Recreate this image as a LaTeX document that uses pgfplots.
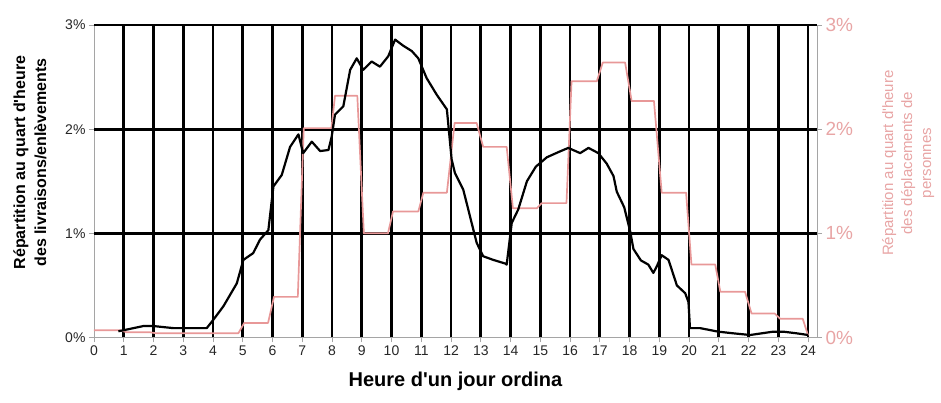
\documentclass[border=0pt]{standalone}
\usepackage{fontspec}
\setmainfont{Liberation Sans}[Ligatures=TeXOff]
\usepackage{pgfplots}
\pgfplotsset{compat=1.18}
\definecolor{rose}{RGB}{232,152,152}
\definecolor{roselab}{RGB}{232,165,165}
\definecolor{axgray}{RGB}{165,165,165}

\begin{document}
\begin{tikzpicture}
\begin{axis}[
  scale only axis, width=723pt, height=312.5pt,
  xmin=0, xmax=24.3, ymin=0, ymax=3,
  axis x line*=bottom, axis y line*=left,
  axis line style={axgray, line width=0.8pt, -},
  xtick={0,1,2,3,4,5,6,7,8,9,10,11,12,13,14,15,16,17,18,19,20,21,22,23,24},
  xticklabels={0,1,2,3,4,5,6,7,8,9,10,11,12,13,14,15,16,17,18,19,20,21,22,23,24},
  ytick={0,1,2,3}, yticklabels={0\%,1\%,2\%,3\%},
  tick align=outside, major tick length=5pt,
  tick style={axgray, line width=0.8pt},
  extra x ticks={1,2,3,4,5,6,7,8,9,10,11,12,13,14,15,16,17,18,19,20,21,22,23,24},
  extra x tick labels={},
  extra x tick style={grid=major, major tick length=0pt},
  extra y ticks={1,2,3}, extra y tick labels={},
  extra y tick style={grid=major, major tick length=0pt},
  grid style={black, line width=2.7pt},
  ticklabel style={font=\fontsize{14}{16}\selectfont, text=black!85},
  xlabel={Heure d'un jour ordina},
  xlabel style={at={(axis description cs:0.5,-0.139)}, anchor=center, font=\bfseries\fontsize{20}{24}\selectfont},
  ylabel={Répartition au quart d'heure\\des livraisons/enlèvements},
  ylabel style={at={(axis description cs:-0.0886,0.56)}, anchor=center, align=center, font=\bfseries\fontsize{16}{21}\selectfont},
]
\coordinate (O) at (rel axis cs:0,0);
% deplacements de personnes (right axis, same 0-3% scale)
\addplot[rose, line width=1.7pt, line join=round] coordinates {
(0,0.07) (0.88,0.07)
(1.1,0.05) (1.88,0.05)
(2.1,0.04) (2.88,0.04)
(3.1,0.04) (3.88,0.04)
(4.1,0.04) (4.85,0.04)
(5.05,0.14) (5.85,0.14)
(6.05,0.39) (6.85,0.39)
(7.05,2.01) (7.98,2.01)
(8.1,2.32) (8.85,2.32)
(9.07,1.00) (9.88,1.00)
(10.05,1.21) (10.9,1.21)
(11.07,1.39) (11.86,1.39)
(12.12,2.06) (12.86,2.06)
(13.08,1.83) (13.87,1.83)
(14.08,1.24) (14.88,1.24)
(15.05,1.29) (15.88,1.29)
(16.05,2.46) (16.9,2.46)
(17.1,2.64) (17.85,2.64)
(18.07,2.27) (18.82,2.27)
(19.08,1.39) (19.9,1.39)
(20.08,0.70) (20.88,0.70)
(21.05,0.44) (21.88,0.44)
(22.1,0.23) (22.88,0.23)
(23.06,0.18) (23.82,0.18)
(24.0,0.02)
};
% livraisons/enlevements
\addplot[black, line width=2.2pt, line join=round] coordinates {
(0.82,0.06) (1.0,0.07) (1.33,0.09) (1.66,0.11) (2.0,0.11) (2.33,0.10)
(2.67,0.09) (3.0,0.09) (3.4,0.09) (3.79,0.09) (4.01,0.17) (4.35,0.30)
(4.8,0.52) (5.02,0.745) (5.35,0.81) (5.58,0.94) (5.86,1.03) (6.03,1.45)
(6.31,1.56) (6.59,1.83) (6.87,1.95) (7.03,1.77) (7.32,1.88) (7.60,1.79)
(7.88,1.80) (7.99,1.93) (8.10,2.14) (8.38,2.22) (8.61,2.57) (8.83,2.68)
(9.05,2.57) (9.33,2.65) (9.61,2.60) (9.89,2.70) (10.12,2.86) (10.40,2.80)
(10.68,2.75) (10.90,2.68) (11.18,2.49) (11.52,2.33) (11.86,2.19) (12.02,1.71)
(12.13,1.58) (12.41,1.42) (12.64,1.16) (12.86,0.91) (13.08,0.78) (13.42,0.745)
(13.82,0.71) (13.87,0.70) (14.04,1.10) (14.26,1.23) (14.55,1.50) (14.85,1.64)
(15.22,1.73) (15.61,1.78) (15.94,1.82) (16.34,1.77) (16.62,1.82) (16.95,1.77)
(17.23,1.67) (17.46,1.55) (17.57,1.40) (17.82,1.25) (18.02,1.02) (18.13,0.85)
(18.38,0.74) (18.63,0.70) (18.80,0.62) (18.91,0.68) (19.08,0.79) (19.31,0.745)
(19.59,0.50) (19.87,0.425) (19.98,0.34) (20.03,0.09) (20.37,0.09) (20.98,0.056)
(21.49,0.04) (22.05,0.024) (22.83,0.056) (23.17,0.056) (23.62,0.04) (24.0,0.024)
};
\end{axis}
\begin{axis}[
  scale only axis, width=723pt, height=312.5pt,
  xmin=0, xmax=24.3, ymin=0, ymax=3,
  axis x line=none, axis y line*=right,
  axis line style={axgray, line width=0.8pt, -},
  ytick={0,1,2,3}, yticklabels={0\%,1\%,2\%,3\%},
  tick align=outside, major tick length=5pt,
  tick style={axgray, line width=0.8pt},
  yticklabel style={font=\fontsize{19}{22}\selectfont, text=roselab},
  ylabel={Répartition au quart d'heure\\des déplacements de\\personnes},
  ylabel style={at={(axis description cs:1.126,0.558)}, anchor=center, align=center, text=roselab, font=\fontsize{15}{19}\selectfont},
]
\addplot[draw=none] coordinates {(0,0) (24,3)};
\end{axis}
\pgfresetboundingbox
\path (O) ++(-94pt,-65.5pt) rectangle ++(941pt,403pt);
\end{tikzpicture}
\end{document}
